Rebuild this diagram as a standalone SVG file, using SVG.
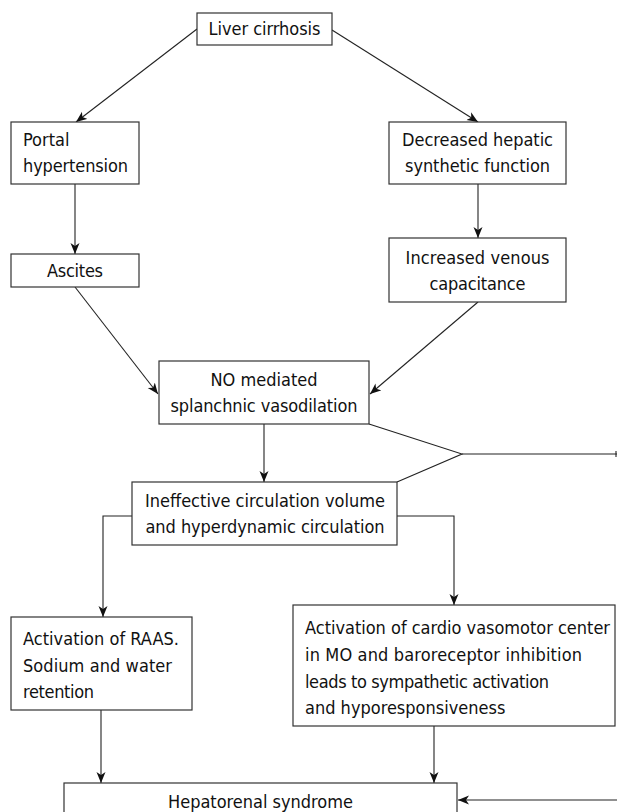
<svg xmlns="http://www.w3.org/2000/svg" width="617" height="812" viewBox="0 0 617 812">
<style>
.box{fill:#fff;stroke:#333;stroke-width:1.2}
.t{font-family:"DejaVu Sans Condensed","DejaVu Sans",sans-serif;font-size:18px;fill:#111}
.c{text-anchor:middle}
.ln{fill:none;stroke:#222;stroke-width:1.1}
.ar{marker-end:url(#ah)}
</style>
<defs>
<marker id="ah" markerUnits="userSpaceOnUse" markerWidth="12" markerHeight="10" viewBox="0 0 12 10" refX="11" refY="5" orient="auto">
<path d="M0,0.5 L11,5 L0,9.5 L3,5 z" fill="#111"/>
</marker>
</defs>
<rect width="617" height="812" fill="#fff"/>
<g id="connectors">
<line class="ln ar" x1="197" y1="29" x2="76" y2="122"/>
<line class="ln ar" x1="332" y1="30" x2="478" y2="122"/>
<line class="ln ar" x1="75" y1="184" x2="75" y2="254"/>
<line class="ln ar" x1="478" y1="184" x2="478" y2="238"/>
<line class="ln ar" x1="75" y1="287" x2="158" y2="394"/>
<line class="ln ar" x1="478" y1="302" x2="370" y2="394"/>
<line class="ln ar" x1="264" y1="424" x2="264" y2="482"/>
<polyline class="ln" points="369,424 462,454 397,482"/>
<line class="ln" x1="462" y1="454" x2="617" y2="454"/>
<line class="ln" x1="616" y1="451" x2="616" y2="457"/>
<polyline class="ln ar" points="132,516 103,516 103,617"/>
<polyline class="ln ar" points="397,516 454,516 454,605"/>
<line class="ln ar" x1="101" y1="710" x2="101" y2="783"/>
<line class="ln ar" x1="434" y1="726" x2="434" y2="783"/>
<line class="ln ar" x1="617" y1="800" x2="458" y2="800"/>
</g>
<g id="liver">
<rect class="box" x="197" y="13" width="135" height="32"/>
<text class="t c" x="264.5" y="35" textLength="112">Liver cirrhosis</text>
</g>
<g id="portal">
<rect class="box" x="11" y="122" width="128" height="62"/>
<text class="t" x="23" y="146">Portal</text>
<text class="t" x="23" y="172" textLength="105">hypertension</text>
</g>
<g id="decreased">
<rect class="box" x="389" y="122" width="177" height="62"/>
<text class="t c" x="477.5" y="146" textLength="151">Decreased hepatic</text>
<text class="t c" x="477.5" y="172" textLength="145">synthetic function</text>
</g>
<g id="ascites">
<rect class="box" x="11" y="254" width="128" height="33"/>
<text class="t c" x="75" y="277" textLength="56">Ascites</text>
</g>
<g id="increased">
<rect class="box" x="389" y="238" width="177" height="64"/>
<text class="t c" x="477.5" y="264" textLength="144">Increased venous</text>
<text class="t c" x="477.5" y="290" textLength="96">capacitance</text>
</g>
<g id="no">
<rect class="box" x="159" y="361" width="210" height="63"/>
<text class="t c" x="264" y="386" textLength="107">NO mediated</text>
<text class="t c" x="264" y="412" textLength="187">splanchnic vasodilation</text>
</g>
<g id="ineffective">
<rect class="box" x="132" y="482" width="265" height="63"/>
<text class="t c" x="265" y="507" textLength="240">Ineffective circulation volume</text>
<text class="t c" x="265" y="533" textLength="239">and hyperdynamic circulation</text>
</g>
<g id="raas">
<rect class="box" x="11" y="617" width="181" height="93"/>
<text class="t" x="23" y="645" textLength="156">Activation of RAAS.</text>
<text class="t" x="23" y="672" textLength="149">Sodium and water</text>
<text class="t" x="23" y="698" textLength="71">retention</text>
</g>
<g id="cardio">
<rect class="box" x="293" y="605" width="322" height="121"/>
<text class="t" x="305" y="634" textLength="305">Activation of cardio vasomotor center</text>
<text class="t" x="305" y="661" textLength="277">in MO and baroreceptor inhibition</text>
<text class="t" x="305" y="688" textLength="244">leads to sympathetic activation</text>
<text class="t" x="305" y="714">and hyporesponsiveness</text>
</g>
<g id="hrs">
<rect class="box" x="64" y="783" width="393" height="50"/>
<text class="t c" x="260.5" y="808" textLength="185">Hepatorenal syndrome</text>
</g>
</svg>
